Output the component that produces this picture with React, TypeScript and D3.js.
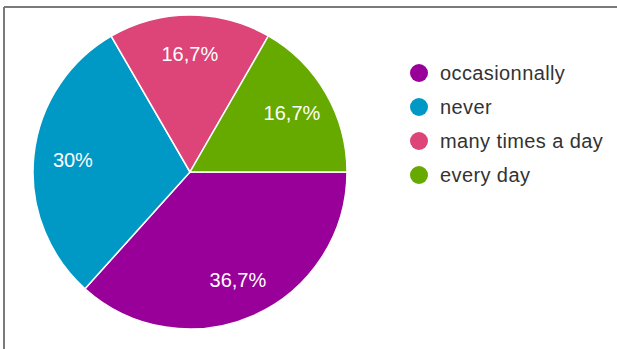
import React from "react";
import * as d3 from "d3";

const categories = ["occasionnally", "never", "many times a day", "every day"];
const values = [36.7, 30, 16.7, 16.7];
const colors = ["#990099", "#0099c6", "#dd4477", "#66aa00"];

const W = 617;
const H = 349;
const cx = 190;
const cy = 172;
const R = 157;

function fmt(v: number) {
  const s = Number.isInteger(v) ? String(v) : v.toFixed(1);
  return s.replace(".", ",") + "%";
}

export default function App() {
  const pie = d3
    .pie<number>()
    .sort(null)
    .startAngle(Math.PI / 2)
    .endAngle(Math.PI / 2 + 2 * Math.PI)
    .value((d) => d);
  const arcs = pie(values);
  const arc = d3.arc<d3.PieArcDatum<number>>().innerRadius(0).outerRadius(R);
  const labelArc = d3
    .arc<d3.PieArcDatum<number>>()
    .innerRadius(R * 0.75)
    .outerRadius(R * 0.75);

  const legendY = d3.scalePoint<number>().domain(d3.range(categories.length)).range([73, 175]);

  return (
    <svg
      width={W}
      height={H}
      style={{ position: "absolute", left: 0, top: 0, background: "#fff" }}
      fontFamily="'Liberation Sans', Arial, sans-serif"
    >
      <line x1={4} y1={7} x2={W} y2={7} stroke="#7a7a7a" strokeWidth={2} />
      <line x1={4} y1={7} x2={4} y2={H} stroke="#7a7a7a" strokeWidth={2} />
      <g transform={`translate(${cx},${cy})`}>
        {arcs.map((a, i) => (
          <path key={i} d={arc(a) || ""} fill={colors[i]} stroke="#fff" strokeWidth={1.5} />
        ))}
        {arcs.map((a, i) => {
          const [x, y] = labelArc.centroid(a);
          return (
            <text
              key={i}
              x={x}
              y={y}
              fill="#fff"
              fontSize={20}
              textAnchor="middle"
              dominantBaseline="central"
            >
              {fmt(values[i])}
            </text>
          );
        })}
      </g>
      {categories.map((c, i) => (
        <g key={c} transform={`translate(0,${legendY(i)})`}>
          <circle cx={419} cy={0} r={9} fill={colors[i]} />
          <text
            x={440}
            y={0}
            fontSize={20}
            letterSpacing={0.4}
            fill="#333"
            dominantBaseline="central"
          >
            {c}
          </text>
        </g>
      ))}
    </svg>
  );
}
